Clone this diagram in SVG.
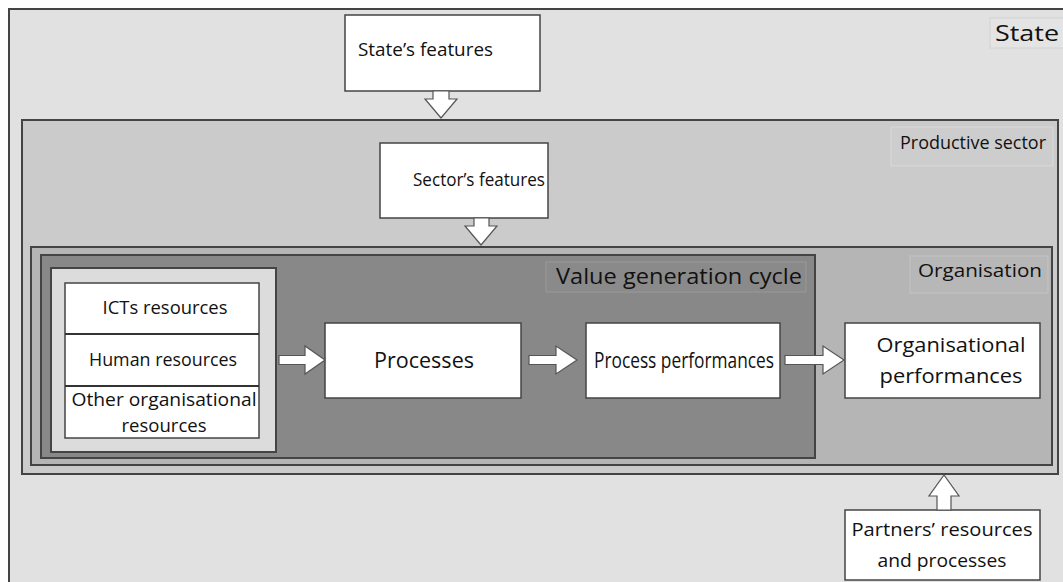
<svg xmlns="http://www.w3.org/2000/svg" width="1063" height="582" viewBox="0 0 1063 582">
  <style>
    text { font-family: "Open Sans", "Liberation Sans", sans-serif; fill: #111; }
    .frame { stroke: #444; stroke-width: 2; }
    .box { fill: #fff; stroke: #444; stroke-width: 1.5; }
    .tag { stroke-width: 1; }
    .arrow { fill: #fff; stroke: #555; stroke-width: 1.2; stroke-linejoin: miter; }
    .mid { text-anchor: middle; }
  </style>

  <rect x="0" y="0" width="1063" height="582" fill="#ffffff"/>

  <!-- State -->
  <g id="state">
    <rect class="frame" x="9" y="9" width="1070" height="590" fill="#e1e1e1"/>
    <rect class="tag" x="990" y="18" width="80" height="30" fill="#e4e4e4" stroke="#d2d2d2"/>
    <text x="995" y="41" font-size="22" font-family="DejaVu Sans, sans-serif" textLength="64" lengthAdjust="spacingAndGlyphs">State</text>
  </g>

  <g id="state-features">
    <rect class="box" x="345" y="15" width="195" height="76"/>
    <text x="358" y="56" font-size="18" textLength="135" lengthAdjust="spacingAndGlyphs">State’s features</text>
  </g>

  <!-- Productive sector -->
  <g id="productive-sector">
    <rect class="frame" x="22" y="120" width="1036" height="354" fill="#cbcbcb"/>
    <rect class="tag" x="891" y="127" width="162" height="39" fill="#cdcdcd" stroke="#dadada"/>
    <text x="900" y="149" font-size="18" textLength="146" lengthAdjust="spacingAndGlyphs">Productive sector</text>
  </g>

  <g id="sector-features">
    <rect class="box" x="380" y="143" width="168" height="75"/>
    <text class="mid" x="479" y="186" font-size="19" textLength="132" lengthAdjust="spacingAndGlyphs">Sector’s features</text>
  </g>

  <!-- Organisation -->
  <g id="organisation">
    <rect class="frame" x="31" y="247" width="1021" height="218" fill="#b5b5b5"/>
    <rect class="tag" x="910" y="256" width="138" height="37" fill="#b7b7b7" stroke="#c4c4c4"/>
    <text x="918" y="277" font-size="19" textLength="124" lengthAdjust="spacingAndGlyphs">Organisation</text>
  </g>

  <!-- Value generation cycle -->
  <g id="value-generation-cycle">
    <rect class="frame" x="41" y="255" width="774" height="203" fill="#888888"/>
    <rect class="tag" x="546" y="262" width="260" height="30" fill="#8a8a8a" stroke="#999999"/>
    <text x="556" y="284" font-size="21" textLength="246" lengthAdjust="spacingAndGlyphs">Value generation cycle</text>
  </g>

  <!-- Organisational resources -->
  <g id="resources">
    <rect class="frame" x="51" y="268" width="225" height="184" fill="#dcdcdc"/>
    <rect class="box" x="65" y="283" width="194" height="155"/>
    <line x1="65" y1="334" x2="259" y2="334" stroke="#333" stroke-width="2"/>
    <line x1="65" y1="386" x2="259" y2="386" stroke="#333" stroke-width="2"/>
  </g>
  <g id="ict-resources">
    <text class="mid" x="165" y="314" font-size="18" textLength="125" lengthAdjust="spacingAndGlyphs">ICTs resources</text>
  </g>
  <g id="human-resources">
    <text class="mid" x="163" y="366" font-size="18" textLength="148" lengthAdjust="spacingAndGlyphs">Human resources</text>
  </g>
  <g id="other-resources">
    <text class="mid" x="164" y="406" font-size="18" textLength="185" lengthAdjust="spacingAndGlyphs">Other organisational</text>
    <text class="mid" x="164" y="432" font-size="18" textLength="85" lengthAdjust="spacingAndGlyphs">resources</text>
  </g>

  <g id="processes">
    <rect class="box" x="325" y="323" width="196" height="75"/>
    <text class="mid" x="424" y="368" font-size="22" textLength="100" lengthAdjust="spacingAndGlyphs">Processes</text>
  </g>

  <g id="process-performances">
    <rect class="box" x="586" y="323" width="194" height="75"/>
    <text class="mid" x="684" y="368" font-size="22" textLength="180" lengthAdjust="spacingAndGlyphs">Process performances</text>
  </g>

  <g id="organisational-performances">
    <rect class="box" x="845" y="323" width="195" height="75"/>
    <text class="mid" x="951" y="352" font-size="20" textLength="149" lengthAdjust="spacingAndGlyphs">Organisational</text>
    <text class="mid" x="951" y="383" font-size="20" textLength="143" lengthAdjust="spacingAndGlyphs">performances</text>
  </g>

  <g id="partners">
    <rect class="box" x="845" y="510" width="195" height="70"/>
    <text class="mid" x="942" y="536" font-size="19" textLength="181" lengthAdjust="spacingAndGlyphs">Partners’ resources</text>
    <text class="mid" x="942" y="567" font-size="19" textLength="129" lengthAdjust="spacingAndGlyphs">and processes</text>
  </g>

  <!-- Block arrows -->
  <g id="connectors">
    <polygon class="arrow" points="433,91 449,91 449,99 457,99 441,118 425,99 433,99"/>
    <polygon class="arrow" points="474,218 489,218 489,226 497,226 481,245 465,226 474,226"/>
    <polygon class="arrow" points="279,355.5 305,355.5 305,346 325,360 305,374 305,364.5 279,364.5"/>
    <polygon class="arrow" points="529,355.5 556,355.5 556,346 577,360 556,374 556,364.5 529,364.5"/>
    <polygon class="arrow" points="785,355.5 823,355.5 823,346 844,360 823,374 823,364.5 785,364.5"/>
    <polygon class="arrow" points="937,510 951,510 951,496 959,496 944,475 929,496 937,496"/>
  </g>
</svg>
